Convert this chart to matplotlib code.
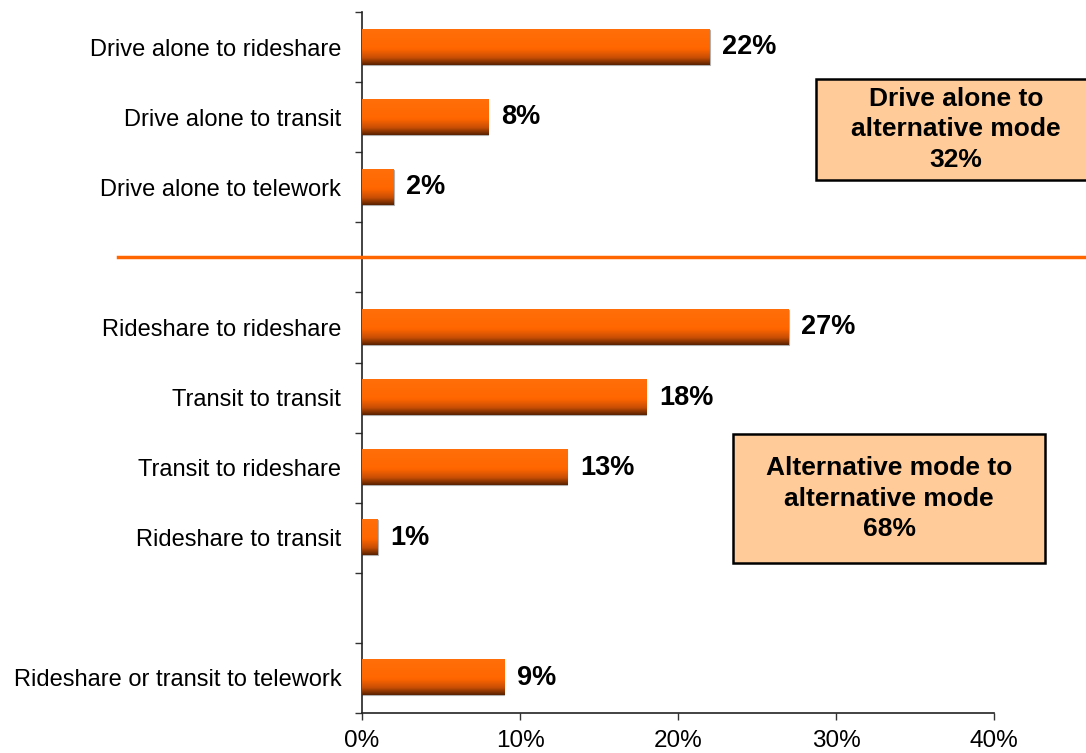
import numpy as np
import matplotlib
matplotlib.use("Agg")
import matplotlib.pyplot as plt
from matplotlib.colors import LinearSegmentedColormap
from matplotlib.lines import Line2D
from matplotlib.patches import Rectangle

plt.rcParams['font.family'] = ['Liberation Sans', 'DejaVu Sans']

# commute mode changes (share of respondents)
categories = [
    "Drive alone to rideshare",
    "Drive alone to transit",
    "Drive alone to telework",
    "Rideshare to rideshare",
    "Transit to transit",
    "Transit to rideshare",
    "Rideshare to transit",
    "Rideshare or transit to telework",
]
values = [0.22, 0.08, 0.02, 0.27, 0.18, 0.13, 0.01, 0.09]
# slot of each bar on the category axis (gaps left empty)
slots = [0, 1, 2, 4, 5, 6, 7, 9]
n_slots = 10

x_ticks = [0.0, 0.1, 0.2, 0.3, 0.4]
x_ticklabels = ["0%", "10%", "20%", "30%", "40%"]

group_labels = ["Drive alone to\nalternative mode\n32%",
                "Alternative mode to\nalternative mode\n68%"]

orange = "#FF6600"
bar_cmap = LinearSegmentedColormap.from_list(
    "bar", [(0.0, "#FF6F0A"), (0.55, "#FF6600"), (0.8, "#C84E05"), (1.0, "#5A2200")])

W, H = 1086, 753
fig = plt.figure(figsize=(W / 100, H / 100), dpi=100)
ax = fig.add_axes([362 / W, 1 - 713 / H, 632 / W, 701 / H])

grad = np.linspace(0, 1, 64).reshape(-1, 1)
bar_h = 0.5
for s, v in zip(slots, values):
    yc = s + 0.5
    # thin grey outline behind each bar
    ax.add_patch(Rectangle((0, yc - bar_h / 2), v, bar_h, facecolor="none",
                           edgecolor="#B0B0B0", linewidth=0.8, zorder=2))
    ax.imshow(grad, cmap=bar_cmap, aspect="auto", zorder=3,
              extent=(0, v, yc + bar_h / 2, yc - bar_h / 2), interpolation="bilinear")
    ax.text(v + 0.008, yc, f"{v * 100:.0f}%", va="center", ha="left",
            fontsize=19.5, fontweight="bold", color="black", zorder=4)

ax.set_xlim(0, 0.4)
ax.set_ylim(n_slots, 0)

ax.set_xticks(x_ticks)
ax.set_xticklabels(x_ticklabels, fontsize=17.5)
ax.set_yticks(range(n_slots + 1))
ax.set_yticklabels([])
ax.set_yticks([s + 0.5 for s in slots], minor=True)
ax.set_yticklabels(categories, minor=True, fontsize=17)
ax.tick_params(axis="y", which="minor", length=0, pad=15)
ax.tick_params(axis="y", which="major", length=5, width=1, direction="out", color="#333333")
ax.tick_params(axis="x", length=5, width=1, direction="out", color="#333333", pad=7)

for side in ["top", "right"]:
    ax.spines[side].set_visible(False)
for side in ["left", "bottom"]:
    ax.spines[side].set_color("#222222")
    ax.spines[side].set_linewidth(1.2)

# divider between the two groups
fig.add_artist(Line2D([118 / W, 1.0], [1 - 257 / H] * 2, color=orange, linewidth=2.5))

# group summary boxes (pixel rect, visible text width)
boxes = [(816, 79, 290, 101, 280), (733, 434, 312, 129, 312)]
for (bx, by, bw, bh, tw), label in zip(boxes, group_labels):
    fig.add_artist(Rectangle((bx / W, 1 - (by + bh) / H), bw / W, bh / H,
                             facecolor="#FFCC99", edgecolor="black", linewidth=1.8,
                             transform=fig.transFigure))
    fig.text((bx + tw / 2) / W, 1 - (by + bh / 2) / H, label,
             ha="center", va="center", fontsize=19, fontweight="bold",
             linespacing=1.35)

fig.savefig("out.png", dpi=100)
